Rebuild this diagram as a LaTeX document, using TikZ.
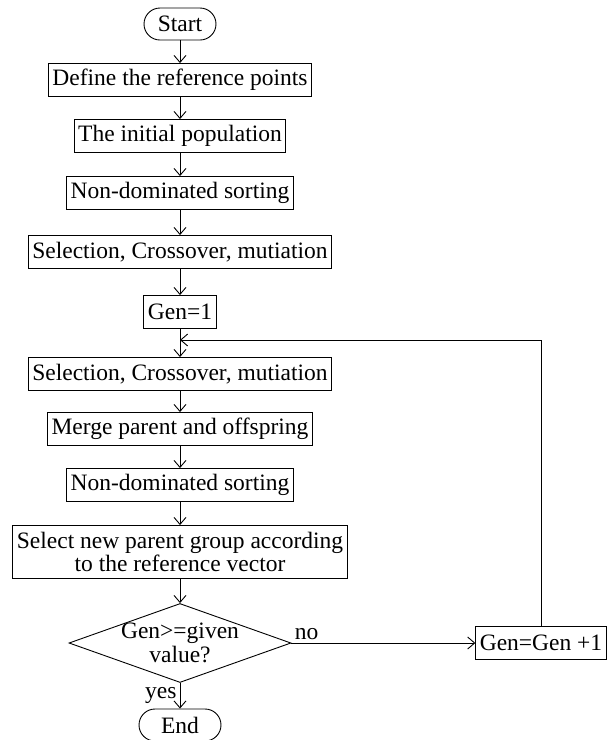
\documentclass[tikz,border=0pt]{standalone}
\usepackage{fontspec}
\setmainfont{Liberation Serif}
\usetikzlibrary{shapes.geometric,arrows.meta}

\begin{document}
\begin{tikzpicture}[x=1pt,y=-1pt,font=\fontsize{23.5}{23.5}\selectfont,line width=0.9pt,
	box/.style={draw,inner xsep=4pt,inner ysep=0pt,minimum height=33pt},
	term/.style={draw,rounded corners=16pt,minimum height=32pt},
	flow/.style={-{Straight Barb[length=7pt,width=12pt]}}]
	\useasboundingbox (0,0) rectangle (608,740);
	\node[term,minimum width=72pt] (start) at (180,24) {Start};
	\node[box] (define) at (180,80) {Define the reference points};
	\node[box] (init) at (180,136) {The initial population};
	\node[box] (sortA) at (180,193) {Non-dominated sorting};
	\node[box] (selA) at (180,252) {Selection, Crossover, mutiation};
	\node[box] (genone) at (180,312) {Gen=1};
	\node[box] (selB) at (180,374) {Selection, Crossover, mutiation};
	\node[box] (merge) at (180,429) {Merge parent and offspring};
	\node[box] (sortB) at (180,485) {Non-dominated sorting};
	\node[box,minimum height=53pt,align=center] (pick) at (180,552) {Select new parent group according\\to the reference vector};
	\node[draw,diamond,aspect=2.8,minimum width=222pt,minimum height=79pt,inner sep=-8pt,align=center] (check) at (180,643) {Gen>=given\\value?};
	\node[box] (genplus) at (541,643) {Gen=Gen +1};
	\node[term,minimum width=82pt] (end) at (180,725) {End};
	\coordinate (loop) at (180,340);
	% main column
	\foreach \a/\b in {start/define,define/init,init/sortA,sortA/selA,selA/genone,genone/selB,selB/merge,merge/sortB,sortB/pick,pick/check}
		\draw[flow] (\a) -- (\b);
	\draw[flow] (check) -- (end) node[left,midway,inner sep=3pt] {yes};
	\draw[flow] (check.east) -- (genplus.west) node[pos=0,above right,inner sep=3pt] {no};
	\draw[flow] (genplus.north) |- (loop);
\end{tikzpicture}
\end{document}
